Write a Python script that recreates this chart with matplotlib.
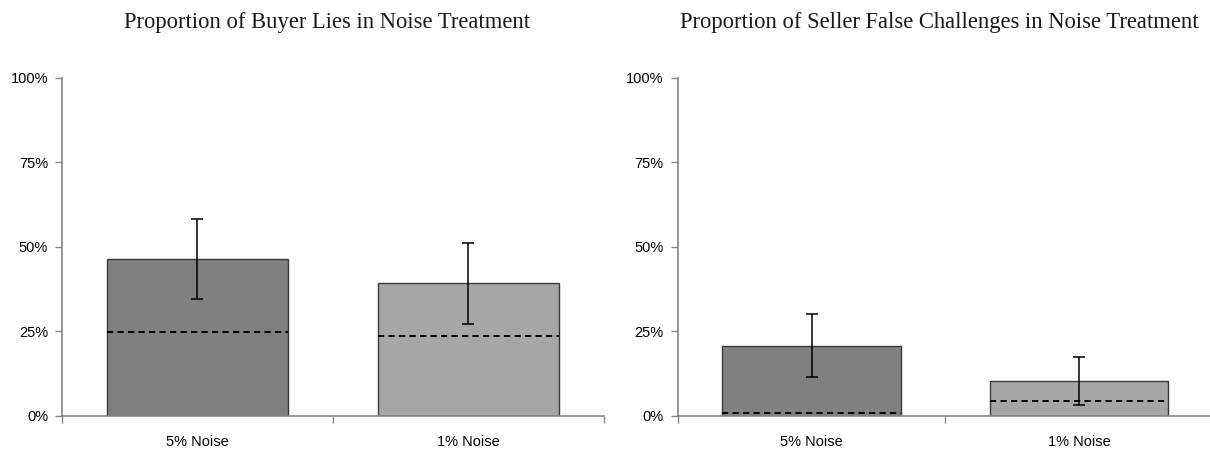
import numpy as np
import matplotlib.pyplot as plt
from matplotlib.ticker import FuncFormatter

# ===================================== #
#                 数据                   #
# ===================================== #
categories = ['5% Noise', '1% Noise']
titles = ['Proportion of Buyer Lies in Noise Treatment',
          'Proportion of Seller False Challenges in Noise Treatment']

# 柱高 (比例)
buyer_lies = [0.464, 0.393]
seller_false = [0.208, 0.104]
# 误差棒 (半宽)
buyer_err = [0.119, 0.120]
seller_err = [0.093, 0.071]
# 虚线 (基准值)
buyer_base = [0.249, 0.237]
seller_base = [0.010, 0.043]

yticks = [0, 0.25, 0.5, 0.75, 1.0]

bar_colors = ['#808080', '#a6a6a6']
axis_color = '#868686'
bar_w = 0.667

fig = plt.figure(figsize=(12.1, 4.5), dpi=100)
ax_left = fig.add_axes([0.0512, 0.0756, 0.4479, 0.7511])
ax_right = fig.add_axes([0.5601, 0.0756, 0.4423, 0.7511])

panels = [
    (ax_left, buyer_lies, buyer_err, buyer_base, titles[0], 0.2705),
    (ax_right, seller_false, seller_err, seller_base, titles[1], 0.7765),
]

x = np.arange(len(categories))

for ax, vals, errs, base, title, tx in panels:
    ax.bar(x, vals, width=bar_w, color=bar_colors, edgecolor='#3a3a3a', linewidth=1.0, zorder=2)
    ax.errorbar(x, vals, yerr=errs, fmt='none', ecolor='black', elinewidth=1.1,
                capsize=4, capthick=1.1, zorder=4)
    ax.hlines(base, x - bar_w / 2, x + bar_w / 2, colors='black', linestyles=(0, (3.2, 2.2)),
              linewidth=1.4, zorder=3)

    ax.set_xlim(-0.5, 1.5)
    ax.set_ylim(0, 1.0)
    ax.set_yticks(yticks)
    ax.yaxis.set_major_formatter(FuncFormatter(lambda v, p: f'{int(round(v * 100))}%'))

    # x轴: 类别标签 + 分界刻度
    ax.set_xticks(x)
    ax.set_xticklabels(categories)
    ax.set_xticks([-0.5, 0.5, 1.5], minor=True)
    ax.tick_params(axis='x', which='major', length=0, pad=14)
    ax.tick_params(axis='x', which='minor', length=5, color=axis_color, width=1)
    ax.tick_params(axis='y', length=5, color=axis_color, width=1, pad=5)
    for lab in ax.get_xticklabels() + ax.get_yticklabels():
        lab.set_fontfamily('Liberation Sans')
        lab.set_fontsize(10.5)
        lab.set_color('black')

    for s in ['top', 'right']:
        ax.spines[s].set_visible(False)
    for s in ['left', 'bottom']:
        ax.spines[s].set_color(axis_color)
        ax.spines[s].set_linewidth(1.2)
    ax.spines['bottom'].set_zorder(5)

    fig.text(tx, 0.9378, title, ha='center', va='baseline', fontsize=16.3,
             family='Liberation Serif', color='#1a1a1a')

fig.savefig('out.png', dpi=100)
